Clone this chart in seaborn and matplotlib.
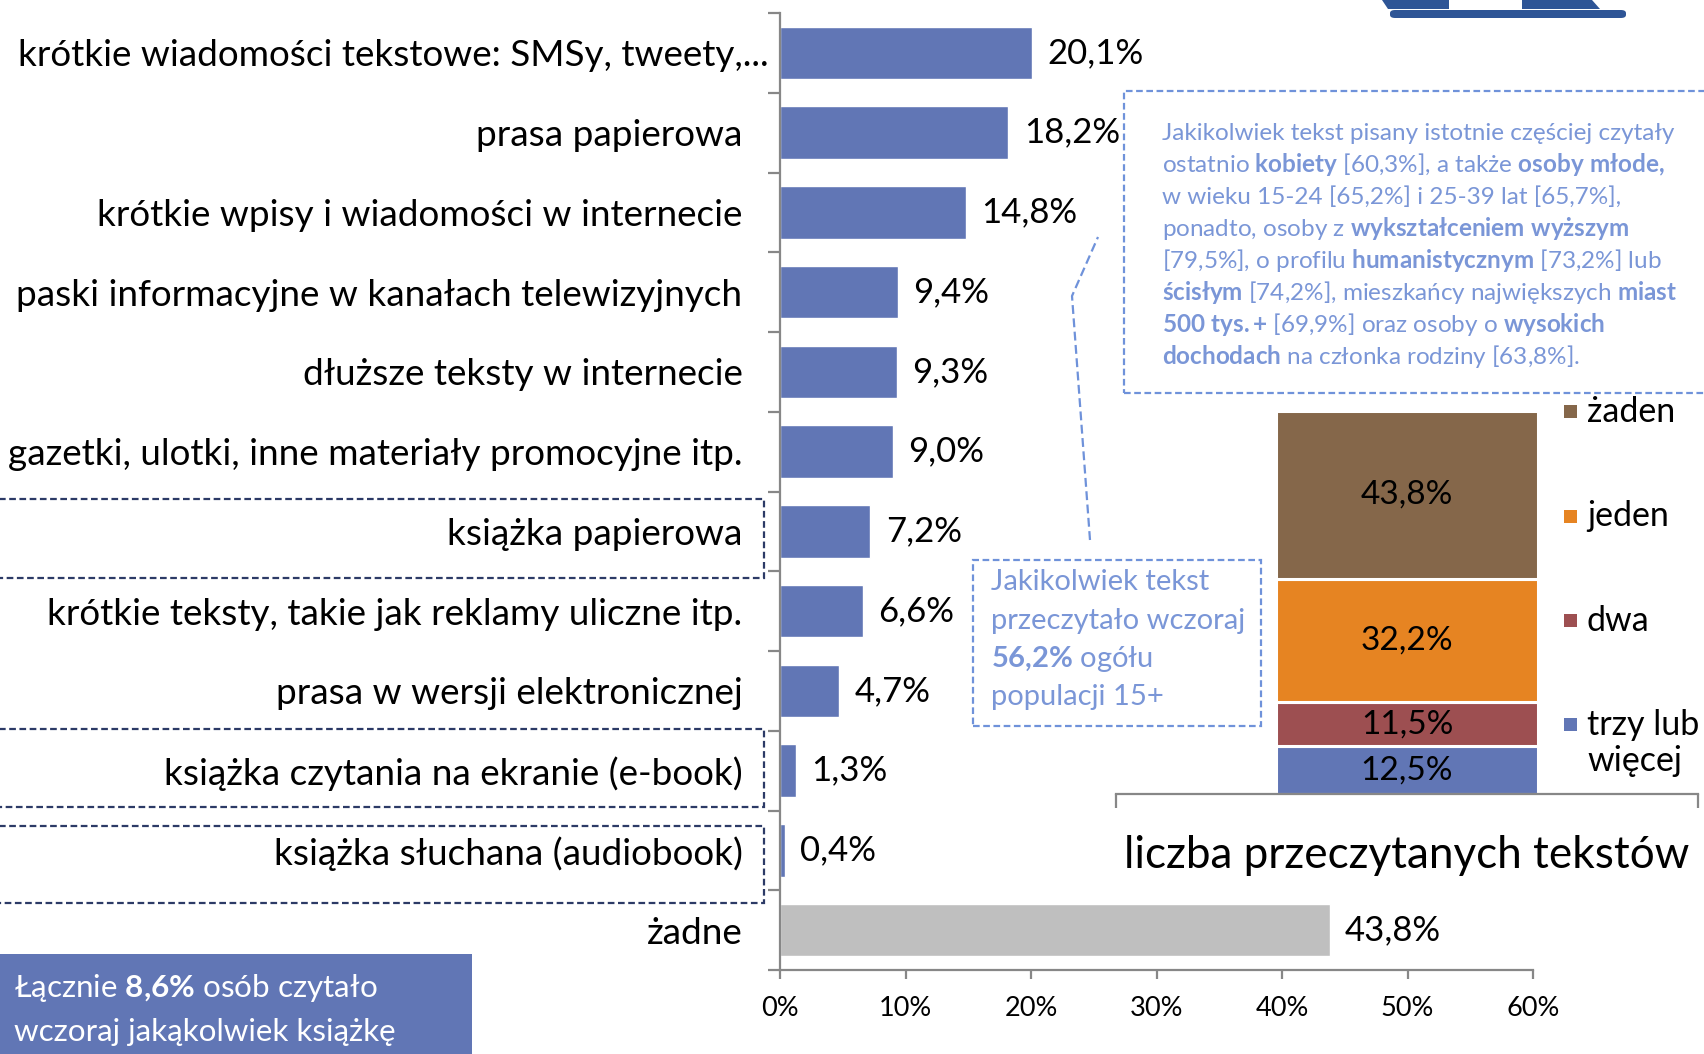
import re
import matplotlib
matplotlib.use("Agg")
import matplotlib.pyplot as plt
import matplotlib.transforms as mtransforms
from matplotlib.patches import Rectangle, Polygon, FancyBboxPatch
from matplotlib.lines import Line2D
import seaborn as sns
import numpy as np
import pandas as pd

# ---------------- data ----------------
categories = [
    "krótkie wiadomości tekstowe: SMSy, tweety,...",
    "prasa papierowa",
    "krótkie wpisy i wiadomości w internecie",
    "paski informacyjne w kanałach telewizyjnych",
    "dłuższe teksty w internecie",
    "gazetki, ulotki, inne materiały promocyjne itp.",
    "książka papierowa",
    "krótkie teksty, takie jak reklamy uliczne itp.",
    "prasa w wersji elektronicznej",
    "książka czytania na ekranie (e-book)",
    "książka słuchana (audiobook)",
    "żadne",
]
values = [20.1, 18.2, 14.8, 9.4, 9.3, 9.0, 7.2, 6.6, 4.7, 1.3, 0.4, 43.8]
book_categories = ["książka papierowa",
                   "książka czytania na ekranie (e-book)",
                   "książka słuchana (audiobook)"]
x_ticks = [0, 10, 20, 30, 40, 50, 60]

count_labels = ["trzy lub\nwięcej", "dwa", "jeden", "żaden"]   # bottom -> top
count_values = [12.5, 11.5, 32.2, 43.8]
count_title = "liczba przeczytanych tekstów"

note_right = [
    "Jakikolwiek tekst pisany istotnie częściej czytały",
    "ostatnio **kobiety** [60,3%], a także **osoby młode,**",
    "w wieku 15-24 [65,2%] i 25-39 lat [65,7%],",
    "ponadto, osoby z **wykształceniem wyższym**",
    "[79,5%], o profilu **humanistycznym** [73,2%] lub",
    "**ścisłym** [74,2%], mieszkańcy największych **miast**",
    "**500 tys.+** [69,9%] oraz osoby o **wysokich**",
    "**dochodach** na członka rodziny [63,8%].",
]
note_mid = ["Jakikolwiek tekst", "przeczytało wczoraj", "**56,2%** ogółu", "populacji 15+"]
note_books = ["Łącznie **8,6%** osób czytało", "wczoraj jakąkolwiek książkę"]

# ---------------- style ----------------
BLUE = "#6176B5"
GRAY = "#BFBFBF"
AXC = "#878787"
NAVY = "#2C3A66"
LBLUE = "#7A96D7"
LBORDER = "#6F92DA"
STACK_COLORS = ["#6176B5", "#9D4F51", "#E68422", "#85674A"]
LOGO = "#2E5596"

sns.set_theme(style="white")
plt.rcParams["font.family"] = ["Lato", "DejaVu Sans"]
plt.rcParams["mathtext.fontset"] = "custom"
plt.rcParams["mathtext.rm"] = "Lato"
plt.rcParams["mathtext.it"] = "Lato:italic"
plt.rcParams["mathtext.bf"] = "Lato:bold"

W, H = 1704, 1054
fig = plt.figure(figsize=(W / 100, H / 100), dpi=100)
fig.patch.set_facecolor("white")


def fx(px):
    return px / W


def fy(py):
    return 1 - py / H


def rich(s):
    def repl(m):
        inner = m.group(1)
        inner = re.sub(r",(?=\d)", "{,}", inner)
        inner = inner.replace("%", r"\%").replace(" ", r"\ ").replace("+", "{+}")
        return r"$\mathbf{" + inner + "}$"
    return re.sub(r"\*\*(.+?)\*\*", repl, s)


# ---------------- main bar chart ----------------
ax = fig.add_axes([fx(780), fy(970), fx(753), 957 / H])
df = pd.DataFrame({"cat": categories, "val": values})
palette = [BLUE] * (len(categories) - 1) + [GRAY]
sns.barplot(data=df, x="val", y="cat", hue="cat", palette=palette, orient="h",
            width=0.66, legend=False, saturation=1, ax=ax)

ax.set_xlim(0, 60)
ax.set_ylim(len(categories) - 0.5, -0.5)
ax.set_xticks(x_ticks)
ax.set_xticklabels([f"{t}%" for t in x_ticks])
ax.set_yticks(range(len(categories)))
ax.set_yticklabels(categories)
ax.set_yticks(np.arange(-0.5, len(categories), 1), minor=True)
ax.set_xlabel("")
ax.set_ylabel("")
for s in ["top", "right"]:
    ax.spines[s].set_visible(False)
for s in ["left", "bottom"]:
    ax.spines[s].set_color(AXC)
    ax.spines[s].set_linewidth(1.6)
ax.tick_params(axis="y", which="major", left=True, length=0, pad=27,
               labelsize=26.6, labelcolor="black")
ax.tick_params(axis="y", which="minor", left=True, length=8.6, width=1.6,
               color=AXC, direction="out")
ax.tick_params(axis="x", which="major", bottom=True, length=6.5, width=1.6,
               color=AXC, direction="out", pad=12.5, labelsize=19.5, labelcolor="black")
ax.tick_params(axis="x", which="minor", bottom=False)

# first (truncated) label sits closer to axis
lab0 = ax.get_yticklabels()[0]
lab0.set_transform(lab0.get_transform() +
                   mtransforms.ScaledTranslation(0.26, 0, fig.dpi_scale_trans))

for cont in ax.containers:
    ax.bar_label(cont, fmt=lambda v: f"{v:.1f}%".replace(".", ","),
                 padding=11, fontsize=25, color="black")

# dashed frames around book categories
box_offsets = {"książka papierowa": (-0.40, 0.58),
               "książka czytania na ekranie (e-book)": (-0.52, 0.46),
               "książka słuchana (audiobook)": (-0.30, 0.66)}
btrans = mtransforms.blended_transform_factory(fig.transFigure, ax.transData)
for cat in book_categories:
    i = categories.index(cat)
    o1, o2 = box_offsets[cat]
    fig.add_artist(Rectangle((-0.01, i + o1), fx(764) + 0.01, o2 - o1,
                             transform=btrans, fill=False, ec=NAVY, lw=1.6,
                             ls=(0, (3, 1.6)), zorder=5))

# ---------------- inset stacked bar ----------------
ax2 = fig.add_axes([fx(1116), fy(794), fx(582), 383 / H])
bottoms = np.concatenate([[0], np.cumsum(count_values)[:-1]])
bars = ax2.bar([0] * len(count_values), count_values, bottom=bottoms, width=0.45,
               color=STACK_COLORS, edgecolor="white", linewidth=2.2)
for b, v in zip(bars, count_values):
    ax2.text(b.get_x() + b.get_width() / 2, b.get_y() + b.get_height() / 2,
             f"{v:.1f}%".replace(".", ","), ha="center", va="center",
             fontsize=24, color="black")
ax2.set_xlim(-0.5, 0.5)
ax2.set_ylim(0, 100)
ax2.set_xticks([-0.5, 0.5])
ax2.set_xticklabels(["", ""])
ax2.set_yticks([])
for s in ["top", "right", "left"]:
    ax2.spines[s].set_visible(False)
ax2.spines["bottom"].set_color(AXC)
ax2.spines["bottom"].set_linewidth(1.6)
ax2.tick_params(axis="x", bottom=True, length=10, width=1.6, color=AXC, direction="out")
ax2.patch.set_alpha(0)
ax2.set_xlabel(count_title, fontsize=31.7, color="black", va="center")
ax2.xaxis.set_label_coords(0.5, -62 / 383)

# legend (top entry first)
leg_y0, leg_dy = 412, 104.3
for k, (lab, col) in enumerate(zip(count_labels[::-1], STACK_COLORS[::-1])):
    y = leg_y0 + leg_dy * k
    fig.add_artist(Rectangle((fx(1564), fy(y + 6.5)), fx(13), 13 / H,
                             transform=fig.transFigure, color=col, lw=0))
    for j, line in enumerate(lab.split("\n")):
        fig.text(fx(1587), fy(y + 36 * j), line, ha="left", va="center",
                 fontsize=24.5, color="black")

# ---------------- annotation boxes ----------------
# right box
fig.add_artist(Rectangle((fx(1124), fy(393)), fx(600), 302 / H, transform=fig.transFigure,
                         fill=False, ec=LBORDER, lw=1.6, ls=(0, (3, 1.6))))
for k, line in enumerate(note_right):
    fig.text(fx(1162), fy(139.5 + 32.1 * k), rich(line), ha="left", va="baseline",
             fontsize=17.5, color=LBLUE)

# middle box
fig.add_artist(Rectangle((fx(973), fy(726)), fx(288), 166 / H, transform=fig.transFigure,
                         fill=False, ec=LBORDER, lw=1.6, ls=(0, (3, 1.6))))
for k, line in enumerate(note_mid):
    fig.text(fx(991), fy(590 + 38.5 * k), rich(line), ha="left", va="baseline",
             fontsize=21, color=LBLUE)

# connector line
fig.add_artist(Line2D([fx(1090), fx(1072), fx(1098)], [fy(540), fy(296), fy(237)],
                      transform=fig.transFigure, color=LBORDER, lw=1.6, ls=(0, (4, 2))))

# bottom-left filled box
fig.add_artist(Rectangle((0, 0), fx(472), 100 / H, transform=fig.transFigure,
                         color=BLUE, lw=0))
for k, line in enumerate(note_books):
    fig.text(fx(14), fy(997 + 44 * k), rich(line), ha="left", va="baseline",
             fontsize=22.6, color="white")

# partial logo at top
fig.add_artist(FancyBboxPatch((fx(1390), fy(18)), fx(236), 8 / H,
                              boxstyle="round,pad=0,rounding_size=0.003",
                              transform=fig.transFigure, color=LOGO, lw=0))
fig.add_artist(Polygon([(fx(1382), fy(0)), (fx(1449), fy(0)), (fx(1449), fy(9)),
                        (fx(1388), fy(9))], closed=True, transform=fig.transFigure,
                       color=LOGO, lw=0))
fig.add_artist(Polygon([(fx(1522), fy(0)), (fx(1592), fy(0)), (fx(1600), fy(9)),
                        (fx(1522), fy(9))], closed=True, transform=fig.transFigure,
                       color=LOGO, lw=0))

fig.savefig("out.png", dpi=100, facecolor="white")
